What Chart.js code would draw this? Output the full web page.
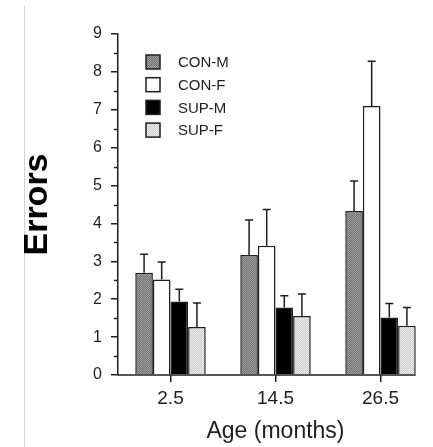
<!DOCTYPE html>
<html>
<head>
<meta charset="utf-8">
<script src="https://cdn.jsdelivr.net/npm/chart.js@4"></script>
<style>
  body { margin: 0; background: #fff; }
  #wrap { width: 433px; height: 447px; }
</style>
</head>
<body>
<div id="wrap"><canvas id="errorsChart" width="433" height="447"></canvas></div>
<script>
// values
const ages = ["2.5", "14.5", "26.5"];
const groupLabels = ["CON-M", "CON-F", "SUP-M", "SUP-F"];
const conM = [2.70, 3.17, 4.33];
const conF = [2.52, 3.41, 7.10];
const supM = [1.94, 1.78, 1.52];
const supF = [1.27, 1.56, 1.30];
const errConM = [0.49, 0.92, 0.79];
const errConF = [0.46, 0.96, 1.18];
const errSupM = [0.32, 0.31, 0.37];
const errSupF = [0.63, 0.58, 0.48];
const yTickValues = [0, 1, 2, 3, 4, 5, 6, 7, 8, 9];

const INK = "#1e1e1e";
const FONT = "'Liberation Sans', Arial, sans-serif";

// small stipple pattern like the printed screen tones
function stipple(a, b) {
  const c = document.createElement("canvas");
  c.width = 2; c.height = 2;
  const g = c.getContext("2d");
  g.fillStyle = a; g.fillRect(0, 0, 2, 2);
  g.fillStyle = b; g.fillRect(0, 0, 1, 1); g.fillRect(1, 1, 1, 1);
  return g.createPattern(c, "repeat");
}

const fills = [
  stipple("#707070", "#a0a0a0"),
  "#ffffff",
  "#000000",
  stipple("#cbcbcb", "#eeeeee")
];
const series = [conM, conF, supM, supF];
const errors = [errConM, errConF, errSupM, errSupF];

const datasets = series.map((vals, i) => ({
  label: groupLabels[i],
  data: vals,
  backgroundColor: fills[i],
  borderColor: INK,
  borderWidth: 1.5,
  errors: errors[i]
}));

// upward error bars with a cap
const errorBars = {
  id: "errorBars",
  afterDatasetsDraw(chart) {
    const ctx = chart.ctx;
    const y = chart.scales.y;
    ctx.save();
    ctx.strokeStyle = INK;
    ctx.lineWidth = 1.5;
    chart.data.datasets.forEach((ds, i) => {
      chart.getDatasetMeta(i).data.forEach((bar, j) => {
        const top = y.getPixelForValue(ds.data[j] + ds.errors[j]);
        ctx.beginPath();
        ctx.moveTo(bar.x, bar.y);
        ctx.lineTo(bar.x, top);
        ctx.moveTo(bar.x - 4, top);
        ctx.lineTo(bar.x + 4, top);
        ctx.stroke();
      });
    });
    ctx.restore();
  }
};

// x axis line (stops at the last bar), short minor y ticks, legend, faint rule at left
const extras = {
  id: "extras",
  beforeDraw(chart) {
    const ctx = chart.ctx;
    ctx.save();
    ctx.strokeStyle = "#d0d0d0";
    ctx.lineWidth = 1;
    ctx.beginPath();
    ctx.moveTo(24.5, 6);
    ctx.lineTo(24.5, 447);
    ctx.stroke();
    ctx.restore();
  },
  afterDraw(chart) {
    const ctx = chart.ctx;
    const y = chart.scales.y;
    const area = chart.chartArea;
    const lastMeta = chart.getDatasetMeta(chart.data.datasets.length - 1);
    const lastBar = lastMeta.data[lastMeta.data.length - 1];
    const xEnd = lastBar.x + lastBar.width / 2;
    const y0 = y.getPixelForValue(0);

    ctx.save();
    ctx.strokeStyle = INK;
    ctx.lineWidth = 1.5;
    ctx.beginPath();
    ctx.moveTo(area.left, y0);
    ctx.lineTo(xEnd, y0);
    ctx.stroke();

    y.ticks.forEach(t => {
      if (t.value % 1 !== 0) {
        const py = Math.round(y.getPixelForValue(t.value)) + 0.5;
        ctx.beginPath();
        ctx.moveTo(area.left - 4, py);
        ctx.lineTo(area.left, py);
        ctx.stroke();
      }
    });

    // legend
    ctx.font = "15px " + FONT;
    ctx.textBaseline = "middle";
    chart.data.datasets.forEach((ds, i) => {
      const cy = 62 + i * 22.7;
      ctx.fillStyle = ds.backgroundColor;
      ctx.fillRect(146, cy - 7, 14, 14);
      ctx.strokeStyle = INK;
      ctx.lineWidth = 1.5;
      ctx.strokeRect(146, cy - 7, 14, 14);
      ctx.fillStyle = INK;
      ctx.fillText(ds.label, 178, cy + 1);
    });
    ctx.restore();
  }
};

new Chart(document.getElementById("errorsChart"), {
  type: "bar",
  data: { labels: ages, datasets: datasets },
  options: {
    responsive: false,
    animation: false,
    devicePixelRatio: 1,
    layout: { padding: { top: 34, right: 0, left: 0, bottom: 0 } },
    categoryPercentage: 0.671,
    barPercentage: 1,
    plugins: {
      legend: { display: false },
      tooltip: { enabled: false }
    },
    scales: {
      x: {
        type: "category",
        offset: true,
        afterFit: (scale) => { scale.height = 72; },
        border: { display: false },
        grid: { offset: false, drawOnChartArea: false, drawTicks: true, tickLength: 7, tickColor: INK, lineWidth: 1.5 },
        ticks: {
          color: INK,
          padding: 5,
          maxRotation: 0,
          font: { family: FONT, size: 19 }
        },
        title: {
          display: true,
          text: "Age (months)",
          color: INK,
          font: { family: FONT, size: 23 },
          padding: { top: 0, bottom: 2 }
        }
      },
      y: {
        min: 0,
        max: 9,
        afterFit: (scale) => { scale.width = 118; },
        border: { display: true, color: INK, width: 1.5 },
        grid: {
          drawOnChartArea: false,
          drawTicks: true,
          tickLength: 7,
          lineWidth: 1.5,
          tickColor: (c) => (c.tick && c.tick.value % 1 === 0 ? INK : "rgba(0,0,0,0)")
        },
        ticks: {
          stepSize: 0.5,
          autoSkip: false,
          color: INK,
          padding: 9,
          font: { family: FONT, size: 16 },
          callback: (v) => (yTickValues.includes(v) ? String(v) : "")
        },
        title: {
          display: true,
          text: "Errors",
          color: "#000",
          font: { family: FONT, size: 34, weight: "bold" },
          padding: { top: 17, bottom: 0 }
        }
      }
    }
  },
  plugins: [errorBars, extras]
});
</script>
</body>
</html>
